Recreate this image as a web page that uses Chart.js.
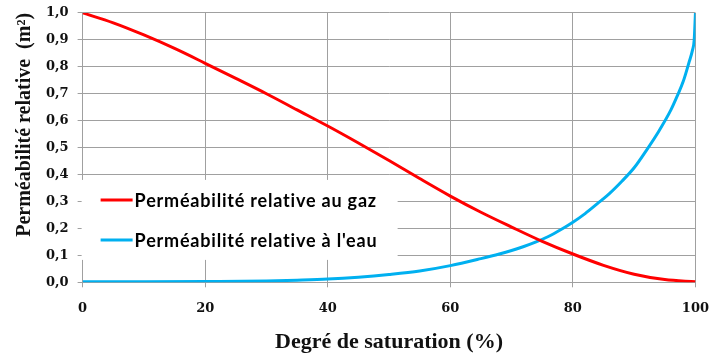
<!DOCTYPE html>
<html>
<head>
<meta charset="utf-8">
<script src="https://cdn.jsdelivr.net/npm/chart.js@4.4.1/dist/chart.umd.min.js"></script>
<style>
  html, body { margin: 0; padding: 0; background: #fff; }
</style>
</head>
<body>
<canvas id="permChart" width="710" height="358"></canvas>
<script>
// degré de saturation (%) -> perméabilité relative
var satGaz = [0, 5, 10, 15, 20, 25, 30, 35, 40, 45, 50, 55, 60, 65, 70, 75, 80, 85, 90, 95, 100];
var kGaz   = [1.0, 0.963, 0.918, 0.868, 0.813, 0.757, 0.70, 0.64, 0.58, 0.517, 0.452, 0.385, 0.32, 0.26, 0.205, 0.152, 0.105, 0.063, 0.03, 0.01, 0.002];

var satEau = [0, 10, 20, 30, 35, 40, 45, 50, 55, 60, 65, 68, 70, 72, 74, 76, 78, 80, 82, 84, 86, 88, 90, 92, 94, 96, 97, 98, 99, 99.5, 99.8, 100];
var kEau   = [0.002, 0.002, 0.003, 0.005, 0.008, 0.012, 0.019, 0.029, 0.042, 0.062, 0.088, 0.105, 0.118, 0.133, 0.15, 0.17, 0.195, 0.223, 0.255, 0.292, 0.33, 0.375, 0.425, 0.49, 0.56, 0.64, 0.69, 0.745, 0.82, 0.86, 0.90, 1.0];

var seriesNames = ['Perméabilité relative au gaz', "Perméabilité relative à l'eau"];
var seriesColors = ['#ff0000', '#00b0f0'];

var xTitle = 'Degré de saturation (%)';
var yTitle = 'Perméabilité relative  (m²)';

function pairs(xs, ys) {
  return xs.map(function (x, i) { return { x: x, y: ys[i] }; });
}

var serif = '"Liberation Serif", "Times New Roman", serif';
var tickFont = '"DejaVu Serif", serif';
var gridGrey = '#a0a0a0';

// legend drawn inside the plot, on a white box over the grid
var insideLegend = {
  id: 'insideLegend',
  beforeDatasetsDraw: function (chart) {
    var ctx = chart.ctx, a = chart.chartArea;
    ctx.save();
    ctx.fillStyle = '#fff';
    ctx.fillRect(a.left - 1, a.top + 167, 316, 80);
    ctx.font = 'bold 18px Lato, "Liberation Sans", sans-serif';
    ctx.letterSpacing = '0.8px';
    ctx.textBaseline = 'middle';
    chart.data.datasets.forEach(function (ds, i) {
      var y = a.top + 187 + i * 40;
      ctx.strokeStyle = ds.borderColor;
      ctx.lineWidth = 3;
      ctx.beginPath();
      ctx.moveTo(a.left + 18, y);
      ctx.lineTo(a.left + 50, y);
      ctx.stroke();
      ctx.fillStyle = '#000';
      ctx.fillText(ds.label, a.left + 52, y + 1);
    });
    ctx.restore();
  }
};

new Chart(document.getElementById('permChart'), {
  type: 'scatter',
  data: {
    datasets: [
      {
        label: seriesNames[0],
        data: pairs(satGaz, kGaz),
        showLine: true,
        borderColor: seriesColors[0],
        borderWidth: 3,
        pointRadius: 0,
        cubicInterpolationMode: 'monotone'
      },
      {
        label: seriesNames[1],
        data: pairs(satEau, kEau),
        showLine: true,
        borderColor: seriesColors[1],
        borderWidth: 3,
        pointRadius: 0,
        cubicInterpolationMode: 'monotone'
      }
    ]
  },
  options: {
    responsive: false,
    animation: false,
    devicePixelRatio: 1,
    layout: { padding: { top: 0, right: 0, left: 3, bottom: 2 } },
    plugins: {
      legend: { display: false },
      tooltip: { enabled: false }
    },
    scales: {
      x: {
        type: 'linear',
        min: 0,
        max: 100,
        ticks: {
          stepSize: 20,
          padding: 1,
          color: '#111',
          font: { family: tickFont, size: 13, weight: 'bold', lineHeight: 3.1 }
        },
        grid: { color: gridGrey, tickLength: 5 },
        border: { color: gridGrey },
        title: {
          display: true,
          text: xTitle,
          color: '#111',
          padding: 0,
          font: { family: serif, size: 22, weight: 'bold' }
        }
      },
      y: {
        min: 0,
        max: 1,
        ticks: {
          stepSize: 0.1,
          padding: 9,
          color: '#111',
          font: { family: tickFont, size: 13, weight: 'bold', lineHeight: 0.6 },
          callback: function (v) { return v.toFixed(1).replace('.', ','); }
        },
        grid: { color: gridGrey, tickLength: 5 },
        border: { color: gridGrey },
        title: {
          display: true,
          text: yTitle,
          color: '#111',
          align: 'end',
          padding: { top: 10, bottom: 0 },
          font: { family: serif, size: 20, weight: 'bold' }
        }
      }
    }
  },
  plugins: [insideLegend]
});
</script>
</body>
</html>
